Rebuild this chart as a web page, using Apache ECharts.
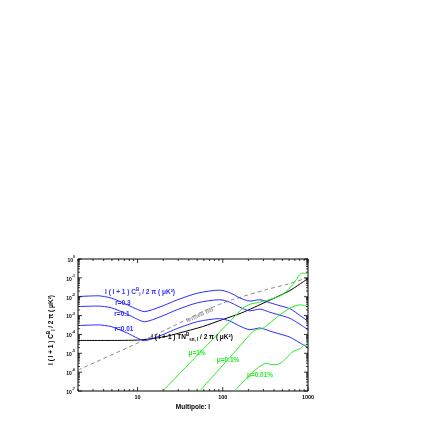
<!DOCTYPE html>
<html><head><meta charset="utf-8">
<script src="https://cdn.jsdelivr.net/npm/echarts@6/dist/echarts.min.js"></script>
<style>html,body{margin:0;padding:0;background:#fff}#c{width:436px;height:436px}</style>
</head><body><div id="c"></div>
<script>
// ---- data (multipole l, l(l+1)C_l/2pi in uK^2) ----
const blueR03 = [[2,1.02e-2],[3.4,1.12e-2],[4.9,8.5e-3],[7.6,3.7e-3],[10,2.1e-3],[12,1.62e-3],[18.8,3.0e-3],[29.5,6.9e-3],[50.8,1.55e-2],[92,2.24e-2],[120,1.66e-2],[158,8.7e-3],[208,5.9e-3],[272,6.9e-3],[357,4.8e-3],[469,3.3e-3],[616,2.3e-3],[808,1.0e-3],[1000,5.0e-4]];
const blueR01 = [[2,3.0e-3],[3.4,3.2e-3],[4.9,2.6e-3],[7.6,1.17e-3],[10,6.3e-4],[12,4.7e-4],[18.8,8.9e-4],[29.5,2.1e-3],[50.8,4.8e-3],[92,6.9e-3],[120,5.2e-3],[158,2.8e-3],[208,1.78e-3],[272,2.2e-3],[357,1.5e-3],[469,1.05e-3],[616,7.1e-4],[808,3.4e-4],[1000,1.78e-4]];
const blueR001 = [[2,2.95e-4],[3.4,3.2e-4],[4.9,2.6e-4],[7.6,1.17e-4],[10,6.3e-5],[12,4.7e-5],[18.8,8.9e-5],[29.5,2.1e-4],[50.8,4.8e-4],[92,6.9e-4],[120,5.2e-4],[158,2.8e-4],[208,1.78e-4],[272,2.2e-4],[357,1.5e-4],[469,1.05e-4],[616,7.1e-5],[808,3.5e-5],[1000,2.0e-5]];
const noiseBB = [[2,4.8e-5],[5,4.8e-5],[10,5.0e-5],[14,5.8e-5],[21,7.6e-5],[30,1.15e-4],[58,2.6e-4],[100,6.2e-4],[166,1.38e-3],[327,5.5e-3],[614,2.14e-2],[1000,9.3e-2]];
const lensedBB = [[2,1.29e-6],[12,5.1e-5],[37,5.9e-4],[54,1.41e-3],[100,4.6e-3],[131,7.1e-3],[326,2.4e-2],[560,4.5e-2],[1000,1.02e-1]];
const mu1 = [[19.8,1e-7],[126,5.9e-4],[172,2.5e-3],[210,4.0e-3],[258,5.0e-3],[357,7.1e-3],[505,1.32e-2],[666,4.5e-2],[800,1.5e-1],[880,1.8e-1],[1000,1.66e-1]];
const mu01 = [[53.6,1e-7],[145,1.5e-5],[225,1.41e-4],[260,1.9e-4],[295,2.1e-4],[470,1.1e-3],[614,2.5e-3],[808,3.7e-3],[1000,3.0e-3]];
const mu001 = [[138,1e-7],[327,2.95e-6],[357,2.6e-6],[430,2.5e-6],[500,3.5e-6],[667,1.23e-5],[808,1.78e-5],[920,2.8e-5],[1000,2.6e-5]];
const xTicks = [2,3,4,5,6,7,8,9,10,20,30,40,50,60,70,80,90,100,200,300,400,500,600,700,800,900,1000];
const yTicks = [];
for (let e = -7; e < 0; e++) for (let m = 1; m <= 9; m++) yTicks.push(m * Math.pow(10, e));
yTicks.push(1);

const BLUE = '#2b2bff', GREEN = '#22ee22';
const isMajor = v => Math.abs(Math.log10(v) - Math.round(Math.log10(v))) < 1e-6;

function tickSeries(values, axis) {
  return {
    type: 'custom', silent: true, z: 5,
    data: values.map(v => axis === 'x' ? [v, 1e-7] : [2, v]),
    renderItem: (params, api) => {
      const cs = params.coordSys;
      const v = axis === 'x' ? api.value(0) : api.value(1);
      const p = api.coord([api.value(0), api.value(1)]);
      const len = isMajor(v) ? 4 : 2;
      const st = { stroke: '#000', lineWidth: 0.8 };
      if (axis === 'x') {
        return { type: 'group', children: [
          { type: 'line', shape: { x1: p[0], y1: cs.y + cs.height, x2: p[0], y2: cs.y + cs.height - len }, style: st },
          { type: 'line', shape: { x1: p[0], y1: cs.y, x2: p[0], y2: cs.y + len }, style: st }
        ]};
      }
      return { type: 'group', children: [
        { type: 'line', shape: { x1: cs.x, y1: p[1], x2: cs.x + len, y2: p[1] }, style: st },
        { type: 'line', shape: { x1: cs.x + cs.width, y1: p[1], x2: cs.x + cs.width - len, y2: p[1] }, style: st }
      ]};
    }
  };
}

function line(data, color, dashed) {
  return { type: 'line', data: data, showSymbol: false, smooth: 0.25,
    lineStyle: { color: color, width: 1, type: dashed ? [4, 3] : 'solid' }, z: 3, silent: true };
}

const FONT = 'Liberation Sans';
const richBase = {
  b: { fontFamily: FONT, fontWeight: 'bold', fontSize: 6.5, lineHeight: 10, verticalAlign: 'middle' },
  sup: { fontFamily: FONT, fontWeight: 'bold', fontSize: 4.5, lineHeight: 10, verticalAlign: 'top' },
  sub: { fontFamily: FONT, fontWeight: 'bold', fontSize: 4.5, lineHeight: 10, verticalAlign: 'bottom' }
};
function richText(color) {
  const r = {};
  for (const k in richBase) r[k] = Object.assign({ fill: color, color: color }, richBase[k]);
  return r;
}
function label(x, y, text, color, rot) {
  return { type: 'text', x: x, y: y, rotation: rot || 0, z: 10,
    style: { text: text, fill: color, align: 'center', verticalAlign: 'middle', rich: richText(color) } };
}

const chart = echarts.init(document.getElementById('c'), null, { renderer: 'canvas' });
chart.setOption({
  backgroundColor: '#fff',
  animation: false,
  grid: { left: 78, right: 128, top: 259, bottom: 45, show: true, borderColor: '#000', borderWidth: 1, backgroundColor: 'transparent' },
  xAxis: { type: 'log', logBase: 10, min: 2, max: 1000,
    axisLine: { show: false }, axisTick: { show: false }, splitLine: { show: false }, minorTick: { show: false },
    axisLabel: { margin: 3, fontFamily: FONT, fontWeight: 'bold', fontSize: 5.5, color: '#000',
      formatter: v => isMajor(v) ? String(Math.round(v)) : '' } },
  yAxis: { type: 'log', logBase: 10, min: 1e-7, max: 1,
    axisLine: { show: false }, axisTick: { show: false }, splitLine: { show: false },
    axisLabel: { margin: 3, color: '#000',
      formatter: v => isMajor(v) ? '{b|10}{s|' + Math.round(Math.log10(v)) + '}' : '',
      rich: { b: { fontFamily: FONT, fontWeight: 'bold', fontSize: 5, lineHeight: 8, verticalAlign: 'bottom' },
              s: { fontFamily: FONT, fontWeight: 'bold', fontSize: 3.5, lineHeight: 8, verticalAlign: 'top' } } } },
  series: [
    line(lensedBB, '#8c8c8c', true),
    line(noiseBB, '#000'),
    line(blueR03, BLUE), line(blueR01, BLUE), line(blueR001, BLUE),
    line(mu1, GREEN), line(mu01, GREEN), line(mu001, GREEN),
    tickSeries(xTicks, 'x'), tickSeries(yTicks, 'y')
  ],
  graphic: [
    label(193, 407, '{b|Multipole: l}', '#000'),
    label(51, 330, '{b|l ( l + 1 ) C}{sup|B}{sub|l}{b| / 2 π ( μK²)}', '#000', Math.PI / 2),
    label(140, 292, '{b|l ( l + 1 ) C}{sup|B}{sub|l}{b| / 2 π ( μK²)}', BLUE),
    label(123, 303, '{b|r=0.3}', BLUE),
    label(122, 314, '{b|r=0.1}', BLUE),
    label(124, 329, '{b|r=0.01}', BLUE),
    label(192, 337, '{b|l ( l + 1 ) TN}{sup|B}{sub|sn, l}{b| / 2 π ( μK²)}', '#000'),
    { type: 'text', x: 200, y: 315, rotation: 0.43, z: 10,
      style: { text: 'lensed BB', fill: '#9a9a9a', align: 'center', verticalAlign: 'middle',
        font: 'bold 6px "Liberation Sans"' } },
    label(197, 353, '{b|μ=1%}', GREEN),
    label(228, 360, '{b|μ=0.1%}', GREEN),
    label(260, 375, '{b|μ=0.01%}', GREEN)
  ]
});
</script></body></html>
